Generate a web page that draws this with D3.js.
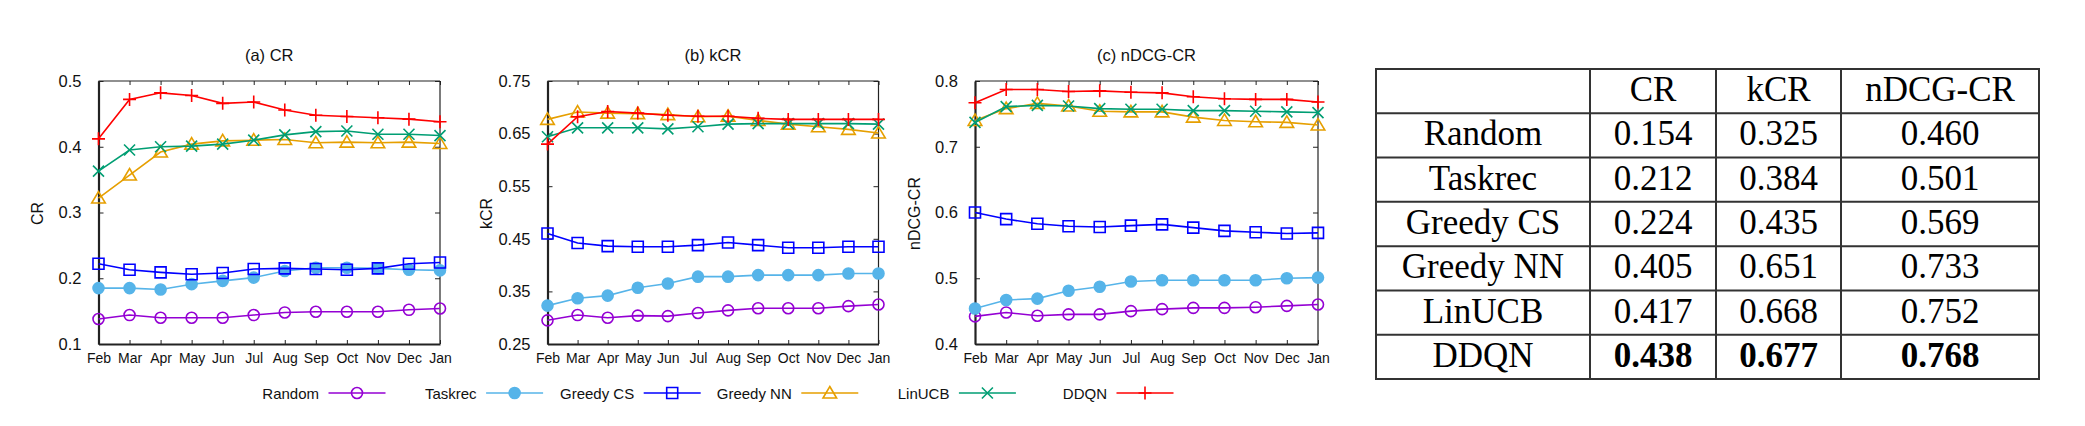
<!DOCTYPE html>
<html>
<head>
<meta charset="utf-8">
<script src="https://cdn.jsdelivr.net/npm/d3@7/dist/d3.min.js"></script>
<style>
  html, body { margin: 0; padding: 0; background: #fff; }
  svg { display: block; }
</style>
</head>
<body>
<svg id="chart" width="2085" height="426"></svg>
<script>
// ---------------- DATA ----------------
const months = ["Feb","Mar","Apr","May","Jun","Jul","Aug","Sep","Oct","Nov","Dec","Jan"];
const seriesNames = ["Random","Taskrec","Greedy CS","Greedy NN","LinUCB","DDQN"];

// (a) CR – one row per series, same order as seriesNames
const crSeries = [
  [0.138,0.144,0.140,0.140,0.140,0.144,0.148,0.149,0.149,0.149,0.152,0.154],
  [0.185,0.185,0.183,0.191,0.196,0.201,0.211,0.216,0.216,0.215,0.213,0.212],
  [0.222,0.213,0.209,0.206,0.208,0.214,0.215,0.214,0.213,0.215,0.222,0.224],
  [0.322,0.357,0.392,0.404,0.409,0.410,0.411,0.406,0.407,0.406,0.407,0.405],
  [0.363,0.395,0.400,0.401,0.404,0.410,0.418,0.423,0.424,0.419,0.419,0.417],
  [0.412,0.472,0.482,0.478,0.466,0.468,0.456,0.448,0.446,0.444,0.442,0.438]
];
// (b) kCR
const kcrSeries = [
  [0.295,0.305,0.300,0.304,0.303,0.309,0.314,0.318,0.318,0.318,0.322,0.325],
  [0.323,0.337,0.342,0.357,0.365,0.378,0.378,0.381,0.381,0.381,0.384,0.384],
  [0.460,0.442,0.436,0.435,0.435,0.438,0.443,0.438,0.433,0.433,0.435,0.435],
  [0.677,0.691,0.689,0.688,0.686,0.682,0.683,0.675,0.668,0.663,0.658,0.651],
  [0.644,0.661,0.661,0.661,0.659,0.663,0.668,0.669,0.669,0.669,0.669,0.668],
  [0.630,0.682,0.692,0.689,0.685,0.683,0.683,0.679,0.677,0.677,0.677,0.677]
];
// (c) nDCG-CR
const ndcgSeries = [
  [0.442,0.448,0.443,0.445,0.445,0.450,0.453,0.455,0.455,0.456,0.458,0.460],
  [0.454,0.467,0.469,0.481,0.487,0.495,0.497,0.497,0.497,0.497,0.500,0.501],
  [0.600,0.590,0.583,0.579,0.578,0.580,0.582,0.577,0.572,0.570,0.568,0.569],
  [0.740,0.758,0.766,0.762,0.754,0.753,0.753,0.745,0.740,0.738,0.737,0.733],
  [0.737,0.761,0.763,0.762,0.758,0.757,0.757,0.755,0.755,0.754,0.753,0.752],
  [0.767,0.787,0.787,0.784,0.785,0.783,0.782,0.776,0.773,0.772,0.772,0.768]
];

const crTicks   = [0.1,0.2,0.3,0.4,0.5];
const kcrTicks  = [0.25,0.35,0.45,0.55,0.65,0.75];
const ndcgTicks = [0.4,0.5,0.6,0.7,0.8];

const panelTitles = ["(a) CR","(b) kCR","(c) nDCG-CR"];
const axisTitles  = ["CR","kCR","nDCG-CR"];

// Table
const tableHeader = ["","CR","kCR","nDCG-CR"];
const tableRows   = ["Random","Taskrec","Greedy CS","Greedy NN","LinUCB","DDQN"];
const tableCR     = ["0.154","0.212","0.224","0.405","0.417","0.438"];
const tableKCR    = ["0.325","0.384","0.435","0.651","0.668","0.677"];
const tableNDCG   = ["0.460","0.501","0.569","0.733","0.752","0.768"];
const tableBoldRow = "DDQN";

// ---------------- STYLE ----------------
const colors  = ["#9400d3","#56b4e9","#0000ff","#e69f00","#009e73","#ff0000"];
const markers = ["circle","dot","square","triangle","times","plus"];
const sans = "'Liberation Sans', Arial, Helvetica, sans-serif";
const serif = "'Liberation Serif', 'Times New Roman', Times, serif";

const svg = d3.select("#chart");

function markerPath(type) {
  const p = d3.path();
  if (type === "circle" || type === "dot") {
    p.arc(0, 0, 5.5, 0, 2 * Math.PI);
  } else if (type === "square") {
    p.rect(-5.5, -5.5, 11, 11);
  } else if (type === "triangle") {
    p.moveTo(0, -6.5); p.lineTo(6.8, 5); p.lineTo(-6.8, 5); p.closePath();
  } else if (type === "times") {
    p.moveTo(-5.5, -5.5); p.lineTo(5.5, 5.5);
    p.moveTo(-5.5, 5.5); p.lineTo(5.5, -5.5);
  } else if (type === "plus") {
    p.moveTo(-6.5, 0); p.lineTo(6.5, 0);
    p.moveTo(0, -6.5); p.lineTo(0, 6.5);
  }
  return p.toString();
}

function drawMarker(g, type, color, x, y) {
  g.append("path")
    .attr("d", markerPath(type))
    .attr("transform", `translate(${x},${y})`)
    .attr("fill", type === "dot" ? color : "none")
    .attr("stroke", color)
    .attr("stroke-width", 1.6);
}

const panels = [
  { x0: 98.5, x1: 440, domain: [0.1, 0.5], ticks: crTicks, data: crSeries, fmt: d3.format(".1f") },
  { x0: 547.5, x1: 878.5, domain: [0.25, 0.75], ticks: kcrTicks, data: kcrSeries, fmt: d3.format(".2f") },
  { x0: 975, x1: 1318, domain: [0.4, 0.8], ticks: ndcgTicks, data: ndcgSeries, fmt: d3.format(".1f") }
];
const yTop = 81, yBot = 344;

panels.forEach((P, pi) => {
  const g = svg.append("g");
  const x = d3.scalePoint().domain(months).range([P.x0, P.x1]).padding(0);
  const y = d3.scaleLinear().domain(P.domain).range([yBot, yTop]);

  // frame: top/right thin
  g.append("line").attr("x1", P.x0).attr("x2", P.x1).attr("y1", yTop).attr("y2", yTop)
    .attr("stroke", "#222").attr("stroke-width", 1.2);
  g.append("line").attr("x1", P.x1).attr("x2", P.x1).attr("y1", yTop).attr("y2", yBot)
    .attr("stroke", "#222").attr("stroke-width", 1.2);

  // left axis
  const yAxis = d3.axisLeft(y).tickValues(P.ticks).tickFormat(P.fmt).tickSizeInner(-5).tickSizeOuter(0).tickPadding(17);
  const ga = g.append("g").attr("transform", `translate(${P.x0},0)`).call(yAxis);
  ga.select(".domain").attr("stroke", "#222").attr("stroke-width", 2.2);
  ga.selectAll(".tick line").attr("stroke", "#222").attr("stroke-width", 1);
  ga.selectAll(".tick text").attr("font-family", sans).attr("font-size", 16.5).attr("fill", "#111");

  // right mirror ticks
  const yAxisR = d3.axisRight(y).tickValues(P.ticks).tickFormat("").tickSizeInner(-5).tickSizeOuter(0);
  const gr = g.append("g").attr("transform", `translate(${P.x1},0)`).call(yAxisR);
  gr.select(".domain").remove();
  gr.selectAll(".tick line").attr("stroke", "#222").attr("stroke-width", 1);

  // bottom axis
  const xAxis = d3.axisBottom(x).tickSizeInner(-4).tickSizeOuter(0).tickPadding(9);
  const gb = g.append("g").attr("transform", `translate(0,${yBot})`).call(xAxis);
  gb.select(".domain").attr("stroke", "#222").attr("stroke-width", 2.2);
  gb.selectAll(".tick line").attr("stroke", "#222").attr("stroke-width", 1);
  gb.selectAll(".tick text").attr("font-family", sans).attr("font-size", 14).attr("fill", "#111");

  // top mirror ticks
  const xAxisT = d3.axisTop(x).tickFormat("").tickSizeInner(-4).tickSizeOuter(0);
  const gt = g.append("g").attr("transform", `translate(0,${yTop})`).call(xAxisT);
  gt.select(".domain").remove();
  gt.selectAll(".tick line").attr("stroke", "#222").attr("stroke-width", 1);

  // titles
  g.append("text").attr("x", (P.x0 + P.x1) / 2).attr("y", 61)
    .attr("text-anchor", "middle").attr("font-family", sans).attr("font-size", 16.5)
    .attr("fill", "#111").text(panelTitles[pi]);
  const ax = P.x0 - 61;
  g.append("text").attr("transform", `translate(${ax},${(yTop + yBot) / 2 + 1}) rotate(-90)`)
    .attr("text-anchor", "middle").attr("dominant-baseline", "central")
    .attr("font-family", sans).attr("font-size", 16).attr("fill", "#111").text(axisTitles[pi]);

  // series
  const line = d3.line().x((d, i) => x(months[i])).y(d => y(d));
  P.data.forEach((vals, si) => {
    g.append("path").datum(vals).attr("d", line)
      .attr("fill", "none").attr("stroke", colors[si]).attr("stroke-width", 1.6);
    vals.forEach((v, i) => drawMarker(g, markers[si], colors[si], x(months[i]), y(v)));
  });
});

// ---------------- LEGEND ----------------
const legend = svg.append("g");
const legendX = d3.scalePoint().domain(seriesNames).range([357, 1145]).padding(0);
const legendY = 393;
seriesNames.forEach((name, si) => {
  const cx = legendX(name);
  legend.append("line").attr("x1", cx - 28.5).attr("x2", cx + 28.5)
    .attr("y1", legendY).attr("y2", legendY)
    .attr("stroke", colors[si]).attr("stroke-width", 1.6);
  drawMarker(legend, markers[si], colors[si], cx, legendY);
  legend.append("text").attr("x", cx - 38).attr("y", legendY + 5.5)
    .attr("text-anchor", "end").attr("font-family", sans).attr("font-size", 15)
    .attr("fill", "#111").text(name);
});

// ---------------- TABLE ----------------
const colEdges = [1376, 1590, 1716, 1841, 2039];
const tTop = 69, tBot = 379;
const rowBand = d3.scaleBand().domain(["header", ...tableRows]).range([tTop, tBot]);
const tg = svg.append("g");

tg.append("rect").attr("x", colEdges[0]).attr("y", tTop)
  .attr("width", colEdges[4] - colEdges[0]).attr("height", tBot - tTop)
  .attr("fill", "none").attr("stroke", "#333").attr("stroke-width", 2);
colEdges.slice(1, 4).forEach(cx => {
  tg.append("line").attr("x1", cx).attr("x2", cx).attr("y1", tTop).attr("y2", tBot)
    .attr("stroke", "#333").attr("stroke-width", 2);
});
tableRows.forEach(r => {
  const yy = rowBand(r);
  tg.append("line").attr("x1", colEdges[0]).attr("x2", colEdges[4]).attr("y1", yy).attr("y2", yy)
    .attr("stroke", "#333").attr("stroke-width", 2);
});

function cellText(col, rowKey, txt, bold) {
  const cx = (colEdges[col] + colEdges[col + 1]) / 2;
  const cy = rowBand(rowKey) + rowBand.bandwidth() / 2;
  tg.append("text").attr("x", cx).attr("y", cy + 10)
    .attr("text-anchor", "middle").attr("font-family", serif).attr("font-size", 35)
    .attr("font-weight", bold ? "bold" : "normal").attr("fill", "#000").text(txt);
}
tableHeader.forEach((h, c) => { if (h) cellText(c, "header", h, false); });
tableRows.forEach((r, i) => {
  const b = r === tableBoldRow;
  cellText(0, r, r, false);
  cellText(1, r, tableCR[i], b);
  cellText(2, r, tableKCR[i], b);
  cellText(3, r, tableNDCG[i], b);
});
</script>
</body>
</html>
